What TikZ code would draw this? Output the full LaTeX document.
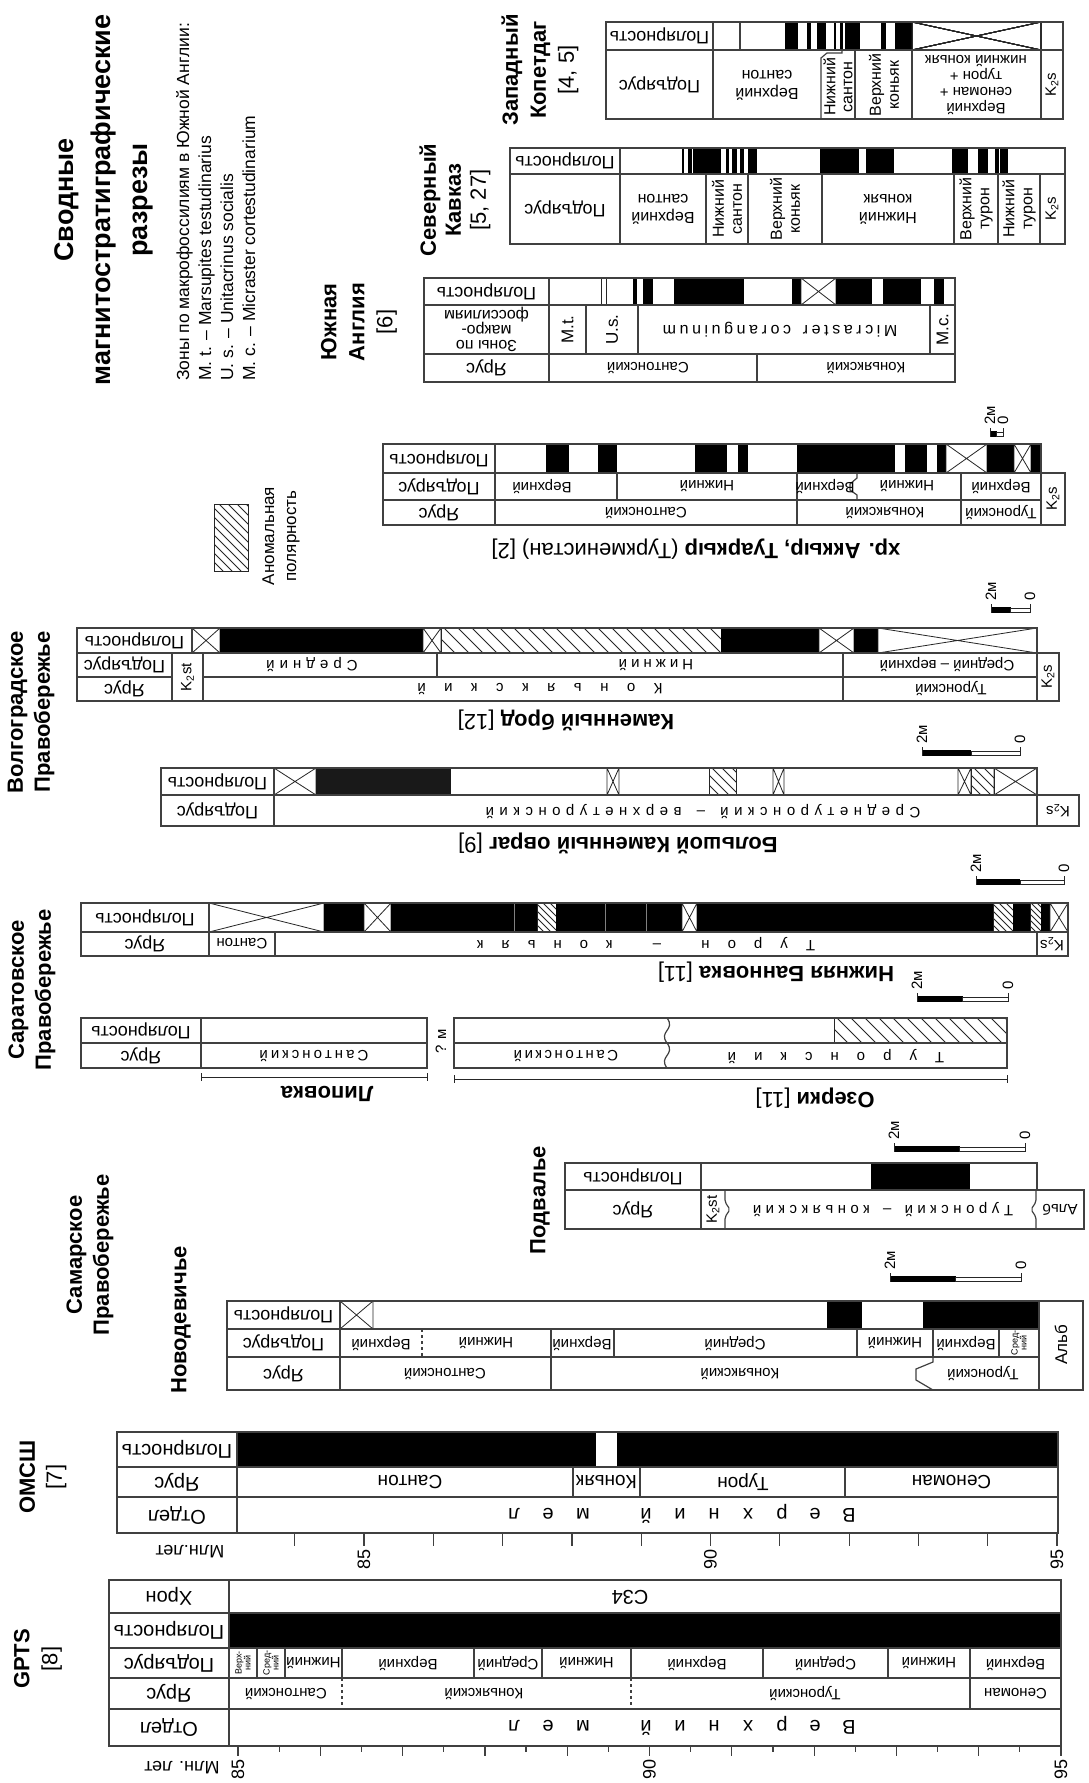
\documentclass[tikz,border=0pt]{standalone}
\usepackage{fontspec}
\setmainfont{Liberation Sans}

% letter-spaced text (~ stands for a blank)
\newcommand\spaced[2]{\def\spgap{#1}\spacedaux#2\relax}
\def\spacedaux#1#2\relax{#1\if\relax\detokenize{#2}\relax\else\hspace{\spgap}\spacedaux#2\relax\fi}

% polarity intervals: normal (black), no data (crossed), anomalous (hatched)
\newcommand\blk[4]{\fill[black] (#1,#3) rectangle (#2,#4);}
\newcommand\xbox[4]{\draw[thincell] (#1,#3) rectangle (#2,#4) (#1,#3) -- (#2,#4) (#1,#4) -- (#2,#3);}
\newcommand\hatchbox[5][13]{%
  \begin{scope}
    \clip (#2,#4) rectangle (#3,#5);
    \pgfmathsetmacro\hbH{#5-#4}
    \pgfmathsetmacro\hbA{#2-\hbH}
    \pgfmathtruncatemacro\hbN{(#3-\hbA)/#1+1}
    \foreach \k in {0,...,\hbN} \draw[thincell] ({\hbA+\k*#1},#4) -- ++(\hbH,\hbH);
  \end{scope}
  \draw[thincell] (#2,#4) rectangle (#3,#5);}
% 2 m scale bar
\newcommand\scalebar[3]{%
  \pgfmathsetmacro\sbm{(#1+#2)/2}
  \fill (#1,#3-3) rectangle (\sbm,#3+3);
  \draw[thincell] (\sbm,#3-2) rectangle (#2,#3+2);
  \draw[thincell] (#1,#3-6) -- (#1,#3+3) (#2,#3-6) -- (#2,#3+3);
  \node[uptext, anchor=west] at (#1,#3-9) {2м};
  \node[uptext, anchor=west] at (#2,#3-9) {0};}

\begin{document}
\begin{tikzpicture}[x=1pt, y=-1pt]

% Define styles
\tikzstyle{cellframe} = [draw=black!75, line width=1.2pt]
\tikzstyle{thincell} = [draw=black!85, line width=0.8pt]
\tikzstyle{rowlabel} = [rotate=180, inner sep=0pt, font=\fontsize{18}{20}\selectfont]
\tikzstyle{biglabel} = [rotate=180, inner sep=0pt, font=\fontsize{20}{22}\selectfont]
\tikzstyle{letter} = [rotate=180, inner sep=0pt, text height=14pt, text depth=0pt, font=\fontsize{20}{22}\selectfont]
\tikzstyle{celltext} = [rotate=180, inner sep=0pt, align=center, font=\fontsize{15}{17}\selectfont]
\tikzstyle{uptext} = [rotate=90, inner sep=0pt, align=center, font=\fontsize{15}{18}\selectfont]
\tikzstyle{tinytext} = [rotate=90, inner sep=0pt, align=center, font=\fontsize{9}{9}\selectfont]
\tikzstyle{sitetitle} = [rotate=180, inner sep=0pt, font=\fontsize{22}{26}\selectfont]
\tikzstyle{regiontitle} = [rotate=90, inner sep=0pt, align=center, font=\bfseries\fontsize{22}{27}\selectfont]

\fill[white] (0,0) rectangle (1088,1783);
\useasboundingbox (0,0) rectangle (1088,1783);

% Heading and legend
\node[regiontitle, font=\bfseries\fontsize{27}{37}\selectfont] (heading) at (104,200) {Сводные\\магнитостратиграфические\\разрезы};
\node[rotate=90, anchor=north west, align=left, inner sep=0pt, font=\fontsize{17.5}{22}\selectfont] (zonenote) at (176,381) {Зоны по макрофоссилиям в Южной Англии:\\M. t. – Marsupites testudinarius\\U. s. – Unitacrinus socialis\\M. c. – Micraster cortestudinarium};
\hatchbox[9]{214}{248}{504}{571}
\node[uptext, font=\fontsize{17}{22}\selectfont] (anomal) at (281,536) {Аномальная\\полярность};

% Region titles
\node[regiontitle, font=\fontsize{22}{28}\selectfont] (gpts) at (38,1659) {\textbf{GPTS}\\{[8]}};
\node[regiontitle, font=\fontsize{22}{27}\selectfont] (omssh) at (43,1477) {\textbf{ОМСШ}\\{[7]}};
\node[regiontitle] (samara) at (90,1255) {Самарское\\Правобережье};
\node[regiontitle] (novod) at (181,1320) {Новодевичье};
\node[regiontitle] (podval) at (540,1200) {Подвалье};
\node[regiontitle] (saratov) at (32,990) {Саратовское\\Правобережье};
\node[regiontitle] (volgo) at (31,712) {Волгоградское\\Правобережье};
\node[regiontitle, font=\fontsize{22}{28}\selectfont] (england) at (359,322) {\textbf{Южная}\\\textbf{Англия}\\{[6]}};
\node[regiontitle, font=\fontsize{22}{25}\selectfont] (caucas) at (455,200) {\textbf{Северный}\\\textbf{Кавказ}\\{[5, 27]}};
\node[regiontitle, font=\fontsize{22}{28}\selectfont] (kopet) at (540,70) {\textbf{Западный}\\\textbf{Копетдаг}\\{[4, 5]}};

% GPTS
\blk{229}{1061}{1613}{1648}
\draw[cellframe] (109,1580) rectangle (1061,1746);
\foreach \y in {1613,1648,1678,1709} \draw[cellframe] (109,\y) -- (1061,\y);
\draw[cellframe] (229,1580) -- (229,1746);
\foreach \x in {257,285,342,474,542,631,763,888,970} \draw[cellframe] (\x,1648) -- (\x,1678);
\draw[cellframe, dashed] (342,1678) -- (342,1709) (631,1678) -- (631,1709);
\draw[cellframe] (970,1678) -- (970,1709);
\foreach \t/\y in {Хрон/1596.5, Полярность/1630.5, Подъярус/1663, Ярус/1693.5, Отдел/1727.5} \node[biglabel] at (169,\y) {\t};
\node[biglabel] (chron) at (630,1597) {C34};
\node[tinytext] at (243,1663) {Верх-\\ний};
\node[tinytext] at (271,1663) {Сред-\\ний};
\foreach \t/\x in {Нижний/313.5, Верхний/408, Средний/508, Нижний/586.5, Верхний/697, Средний/825.5, Нижний/929, Верхний/1015.5} \node[celltext] at (\x,1663) {\t};
\foreach \t/\x in {Сантонский/286, Коньякский/484, Туронский/805, Сеноман/1015.5} \node[celltext] at (\x,1693.5) {\t};
\foreach \t/\x in {В/849, е/815, р/782, х/748, н/714, и/680, й/646, м/583, е/548, л/514} \node[letter] at (\x,1727.5) {\t};
\foreach \a in {0,...,10} \draw[cellframe] ({238+82.3*\a},1746) -- ++(0,10);
\foreach \a in {0,...,9} \draw[cellframe] ({279.15+82.3*\a},1746) -- ++(0,6);
\foreach \a/\t in {0/85,5/90,10/95} \node[uptext, anchor=east, font=\fontsize{18}{18}\selectfont] at ({238+82.3*\a},1759) {\t};
\node[rowlabel] (gptsaxis) at (182,1768) {Млн. лет};

% OMSSH
\blk{237}{596}{1432}{1467}
\blk{617}{1058}{1432}{1467}
\draw[cellframe] (117,1432) rectangle (1058,1533);
\draw[cellframe] (117,1467) -- (1058,1467) (117,1497) -- (1058,1497) (237,1432) -- (237,1533);
\foreach \x in {573,640,845} \draw[cellframe] (\x,1467) -- (\x,1497);
\foreach \t/\y in {Полярность/1449.5, Ярус/1482, Отдел/1515} \node[biglabel] at (177,\y) {\t};
\foreach \t/\x in {Сантон/410, Коньяк/606.5, Турон/743, Сеноман/951.5} \node[celltext, font=\fontsize{19}{20}\selectfont] at (\x,1482) {\t};
\foreach \t/\x in {В/849, е/815, р/782, х/748, н/714, и/680, й/646, м/583, е/548, л/514} \node[letter] at (\x,1515) {\t};
\foreach \a in {-1,...,10} \draw[cellframe] ({364+69.3*\a},1533) -- ++(0,13);
\foreach \a/\t in {0/85,5/90,10/95} \node[uptext, anchor=east, font=\fontsize{18}{18}\selectfont] at ({364+69.3*\a},1549) {\t};
\node[rowlabel] (omsshaxis) at (190,1552) {Млн.лет};

% Novodevichye
\xbox{340}{373}{1301}{1329}
\blk{827}{862}{1301}{1329}
\blk{923}{1039}{1301}{1329}
\draw[cellframe] (227,1301) rectangle (1083,1390);
\draw[cellframe] (227,1329) -- (1039,1329) (227,1357) -- (1039,1357);
\draw[cellframe] (340,1301) -- (340,1390) (1039,1301) -- (1039,1390);
\draw[cellframe, dashed] (422,1329) -- (422,1357);
\foreach \x in {551,614,857,933,999} \draw[cellframe] (\x,1329) -- (\x,1357);
\draw[cellframe] (551,1357) -- (551,1390);
\draw[cellframe] (933,1357) -- (933,1362) -- (916,1369) -- (916,1380) -- (933,1390);
\foreach \t/\y in {Полярность/1315, Подъярус/1343, Ярус/1373.5} \node[rowlabel] at (283.5,\y) {\t};
\foreach \t/\x in {Верхний/381, Нижний/486, Верхний/582, Средний/735, Нижний/895, Верхний/966} \node[celltext] at (\x,1343) {\t};
\node[tinytext] at (1019,1343) {Сред-\\ний};
\foreach \t/\x in {Сантонский/445, Коньякский/740, Туронский/983} \node[celltext] at (\x,1373.5) {\t};
\node[uptext, font=\fontsize{17}{18}\selectfont] at (1061,1345) {Альб};
\scalebar{890}{1021}{1279}

% Podvalye
\blk{871}{970}{1163}{1190}
\draw[cellframe] (565,1163) rectangle (1037,1190);
\draw[cellframe] (565,1190) rectangle (1084,1229);
\draw[cellframe] (701,1163) -- (701,1229);
\draw[cellframe, rounded corners=2pt] (725,1190) -- (725,1202) -- (730,1209.5) -- (725,1217) -- (725,1229);
\draw[cellframe, rounded corners=2pt] (1036,1190) -- (1036,1202) -- (1031,1209.5) -- (1036,1217) -- (1036,1229);
\node[rowlabel] at (633,1176.5) {Полярность};
\node[rowlabel] at (633,1209.5) {Ярус};
\node[uptext] at (713,1209.5) {K\textsubscript{2}st};
\node[celltext] at (883,1209.5) {\spaced{4.5pt}{Туронский~–~коньякский}};
\node[celltext] at (1060,1209.5) {Альб};
\scalebar{894}{1025}{1149}

% Saratov: Lipovka
\draw[cellframe] (81,1018) rectangle (427,1068);
\draw[cellframe] (81,1043) -- (427,1043) (201,1018) -- (201,1068);
\node[rowlabel] at (141,1030.5) {Полярность};
\node[rowlabel] at (141,1055.5) {Ярус};
\node[celltext] at (314,1056) {\spaced{3pt}{Сантонский}};
\draw[thincell] (201,1077) -- (427,1077) (201,1073) -- (201,1081) (427,1073) -- (427,1081);
\node[sitetitle] (lipovka) at (327,1094) {\textbf{Липовка}};
\node[uptext] at (441,1041) {? м};

% Saratov: Ozerki
\hatchbox[14]{834}{1007}{1018}{1043}
\draw[cellframe] (454,1018) rectangle (1007,1068);
\draw[cellframe] (454,1043) -- (1007,1043);
\draw[cellframe] (667,1018) .. controls (676,1030) and (658,1031) .. (667,1043) .. controls (676,1055) and (658,1056) .. (667,1068);
\node[celltext] at (566,1056) {\spaced{2.5pt}{Сантонский}};
\node[celltext] at (836,1056) {\spaced{18pt}{Туронский}};
\draw[thincell] (454,1079) -- (1007,1079) (454,1075) -- (454,1083) (1007,1075) -- (1007,1083);
\node[sitetitle] (ozerki) at (815,1098) {\textbf{Озерки} [11]};
\scalebar{917}{1008}{999}

% Saratov: Nizhnyaya Bannovka
\xbox{209}{324}{903}{932}
\blk{324}{364}{903}{932}
\xbox{364}{391}{903}{932}
\blk{391}{537}{903}{932}
\hatchbox[7]{537}{556}{903}{932}
\blk{556}{682}{903}{932}
\xbox{682}{697}{903}{932}
\blk{697}{993}{903}{932}
\hatchbox[7]{993}{1013}{903}{932}
\blk{1013}{1030}{903}{932}
\hatchbox[6]{1030}{1041}{903}{932}
\blk{1041}{1050}{903}{932}
\xbox{1050}{1068}{903}{932}
\draw[gray, line width=0.6pt] (514,903) -- (514,932) (605,903) -- (605,932) (646,903) -- (646,932);
\draw[cellframe] (81,903) rectangle (1068,956);
\draw[cellframe] (81,932) -- (1068,932) (209,903) -- (209,956) (275,932) -- (275,956) (1037,932) -- (1037,956);
\node[rowlabel] at (145,917.5) {Полярность};
\node[rowlabel] at (145,944) {Ярус};
\node[celltext] at (242,944) {Сантон};
\node[celltext] at (646,944) {\spaced{18pt}{Турон~–~коньяк}};
\node[celltext] at (1052,944) {K\textsubscript{2}s};
\node[sitetitle] (bannovka) at (776,972) {\textbf{Нижняя Банновка} [11]};
\scalebar{976}{1064}{882}

% Volgograd: Bolshoy Kamenny ovrag
\xbox{274}{316}{768}{795}
\fill[black!90] (316,768) rectangle (451,795);
\xbox{607}{619}{768}{795}
\hatchbox[10]{709}{736}{768}{795}
\xbox{773}{784}{768}{795}
\xbox{958}{971}{768}{795}
\hatchbox[10]{971}{994}{768}{795}
\xbox{994}{1037}{768}{795}
\draw[cellframe] (161,768) rectangle (1037,795);
\draw[cellframe] (161,795) rectangle (1079,826);
\draw[cellframe] (274,768) -- (274,826) (1037,795) -- (1037,826);
\node[rowlabel] at (217.5,781.5) {Полярность};
\node[rowlabel] at (217.5,810.5) {Подъярус};
\node[celltext] at (703,811) {\spaced{5.5pt}{Среднетуронский~–~верхнетуронский}};
\node[celltext] at (1058,810.5) {K\textsubscript{2}s};
\node[sitetitle] (bolshoy) at (618,843) {\textbf{Большой Каменный овраг} [9]};
\scalebar{922}{1020}{753}

% Volgograd: Kamenny brod
\xbox{192}{220}{628}{653}
\blk{220}{423}{628}{653}
\xbox{423}{441}{628}{653}
\hatchbox[14]{441}{721}{628}{653}
\blk{721}{819}{628}{653}
\xbox{819}{854}{628}{653}
\blk{854}{878}{628}{653}
\xbox{878}{1037}{628}{653}
\draw[cellframe] (77,628) rectangle (1037,653);
\draw[cellframe] (77,653) rectangle (1059,701);
\draw[cellframe] (77,677) -- (172,677) (203,677) -- (1037,677);
\draw[cellframe] (192,628) -- (192,653) (172,653) -- (172,701) (203,653) -- (203,701) (437,653) -- (437,677) (843,653) -- (843,701) (1037,653) -- (1037,701);
\node[rowlabel] at (134.5,640.5) {Полярность};
\node[rowlabel] at (124.5,665) {Подъярус};
\node[rowlabel] at (124.5,689) {Ярус};
\node[uptext] at (187.5,677) {K\textsubscript{2}st};
\node[celltext] at (312,665) {\spaced{5pt}{Средний}};
\node[celltext] at (656,665) {\spaced{4pt}{Нижний}};
\node[celltext] at (947,665) {Средний – верхний};
\node[celltext] at (540,689) {\spaced{18.5pt}{Коньякский}};
\node[celltext] at (951,689) {Туронский};
\node[uptext] at (1048,677) {K\textsubscript{2}s};
\node[sitetitle] (brod) at (566,720) {\textbf{Каменный брод} [12]};
\scalebar{991}{1030}{610}

% Akkyr, Tuarkyr
\blk{546}{569}{444}{473}
\blk{598}{617}{444}{473}
\blk{695}{727}{444}{473}
\blk{738}{748}{444}{473}
\blk{797}{895}{444}{473}
\blk{905}{927}{444}{473}
\blk{937}{946}{444}{473}
\xbox{946}{987}{444}{473}
\blk{987}{1014}{444}{473}
\xbox{1014}{1031}{444}{473}
\blk{1031}{1041}{444}{473}
\draw[cellframe] (383,444) rectangle (1041,525);
\draw[cellframe] (383,473) -- (1041,473) (383,500) -- (1041,500) (495,444) -- (495,525);
\draw[cellframe] (1041,473) rectangle (1065,525);
\foreach \x in {617,961} \draw[cellframe] (\x,473) -- (\x,500);
\draw[cellframe] (797,473) -- (797,525) (961,500) -- (961,525);
\draw[cellframe] (857,473) -- (857,478) -- (850,484) -- (850,490) -- (857,495) -- (857,500);
\node[rowlabel] at (439,458.5) {Полярность};
\node[rowlabel] at (439,486.5) {Подъярус};
\node[rowlabel] at (439,512.5) {Ярус};
\foreach \t/\x in {Верхний/542, Нижний/707, Верхний/825, Нижний/907, Верхний/1001} \node[celltext] at (\x,486.5) {\t};
\foreach \t/\x in {Сантонский/646, Коньякский/885, Туронский/1001} \node[celltext] at (\x,512.5) {\t};
\node[uptext] at (1053,499) {K\textsubscript{2}s};
\node[sitetitle] (akkyr) at (696,549) {\textbf{хр. Аккыр, Туаркыр} (Туркменистан) [2]};
\scalebar{990}{1003}{434}

% Southern England
\draw[thincell] (601,278) rectangle (606,305);
\blk{633}{637}{278}{305}
\blk{643}{653}{278}{305}
\blk{674}{744}{278}{305}
\blk{792}{801}{278}{305}
\xbox{801}{836}{278}{305}
\blk{836}{872}{278}{305}
\blk{883}{921}{278}{305}
\blk{934}{944}{278}{305}
\draw[cellframe] (424,278) rectangle (955,382);
\draw[cellframe] (424,305) -- (955,305) (424,354) -- (955,354) (549,278) -- (549,382);
\foreach \x in {586,638,930} \draw[cellframe] (\x,305) -- (\x,354);
\draw[cellframe] (757,354) -- (757,382);
\node[rowlabel] at (486.5,291.5) {Полярность};
\node[celltext, font=\fontsize{16}{15}\selectfont] at (486.5,329.5) {Зоны по\\макро-\\фоссилиям};
\node[rowlabel] at (486.5,368) {Ярус};
\node[uptext, font=\fontsize{17}{18}\selectfont] at (567.5,329.5) {M.t.};
\node[uptext, font=\fontsize{17}{18}\selectfont] at (612,329.5) {U.s.};
\node[celltext, font=\fontsize{16}{17}\selectfont] at (780,330) {\spaced{3.6pt}{Micraster~coranguinum}};
\node[uptext, font=\fontsize{17}{18}\selectfont] at (942.5,329.5) {M.c.};
\node[celltext] at (648,368) {Сантонский};
\node[celltext] at (866,368) {Коньякский};

% North Caucasus
\foreach \a/\b in {682/684, 688/692, 693/721, 726/729, 732/737, 740/744, 748/757, 820/859, 866/894, 952/968, 978/988, 995/999, 1000/1008} \blk{\a}{\b}{148}{174}
\draw[cellframe] (510,148) rectangle (1065,244);
\draw[cellframe] (510,174) -- (1065,174);
\draw[cellframe] (620,148) -- (620,244);
\foreach \x in {706,748,822,954,998,1040} \draw[cellframe] (\x,174) -- (\x,244);
\node[rowlabel] at (565,161) {Полярность};
\node[rowlabel] at (565,209) {Подъярус};
\node[celltext, font=\fontsize{16}{18}\selectfont] at (663,209) {Верхний\\сантон};
\node[uptext, font=\fontsize{16}{18}\selectfont] at (727,209) {Нижний\\сантон};
\node[uptext, font=\fontsize{16}{18}\selectfont] at (785,209) {Верхний\\коньяк};
\node[celltext, font=\fontsize{16}{18}\selectfont] at (888,209) {Нижний\\коньяк};
\node[uptext, font=\fontsize{16}{18}\selectfont] at (976,209) {Верхний\\турон};
\node[uptext, font=\fontsize{16}{18}\selectfont] at (1019,209) {Нижний\\турон};
\node[uptext] at (1052,209) {K\textsubscript{2}s};

% Western Kopetdag
\foreach \a/\b in {785/798, 807/811, 817/826, 834/836, 840/843, 845/860, 881/886, 895/912} \blk{\a}{\b}{22}{50}
\xbox{912}{1041}{22}{50}
\draw[cellframe] (606,22) rectangle (1063,119);
\draw[cellframe] (606,50) -- (1063,50) (713,22) -- (713,119) (740,22) -- (740,50);
\draw[cellframe] (821,119) -- (821,58) -- (827,53) -- (842,53) -- (842,50);
\foreach \x in {855,912,1041} \draw[cellframe] (\x,50) -- (\x,119);
\node[rowlabel] at (659.5,36) {Полярность};
\node[rowlabel] at (659.5,85) {Подъярус};
\node[celltext, font=\fontsize{16}{18}\selectfont] at (767,85) {Верхний\\сантон};
\node[uptext, font=\fontsize{16}{17}\selectfont] at (838,87) {Нижний\\сантон};
\node[uptext, font=\fontsize{16}{18}\selectfont] at (884,85) {Верхний\\коньяк};
\node[celltext, font=\fontsize{15}{16}\selectfont] at (976,85) {Верхний\\сеноман +\\турон +\\нижний коньяк};
\node[uptext] at (1052,85) {K\textsubscript{2}s};

\end{tikzpicture}
\end{document}
